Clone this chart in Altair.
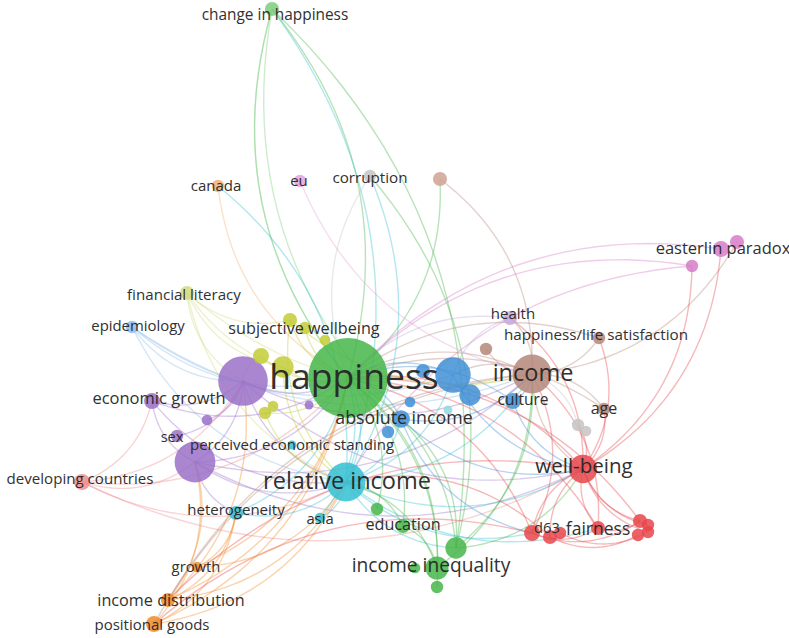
import altair as alt
import pandas as pd

W, H = 789, 638

# Cluster palette
GREEN = "#45b649"
GREEN_L = "#7ccd7c"
BLUE = "#3f8fd6"
BLUE_L = "#8fbde8"
CYAN = "#34bfd2"
CYAN_L = "#8fd8e2"
PURPLE = "#9a71c7"
PURPLE_L = "#c3a8e0"
YELLOW = "#c2cc36"
YELLOW_L = "#d3db7c"
BROWN = "#b5877a"
BROWN_L = "#cfa293"
GRAY = "#c4c4c4"
PINK = "#d67cc8"
PINK_L = "#e4a3d9"
RED = "#e8474b"
RED_L = "#ef8d8f"
ORANGE = "#f18b28"
ORANGE_L = "#f4b072"

# Keyword nodes: id, x, y (map coordinates), radius, colour
node_ids = ["hap", "chg", "edu", "gA", "iq1", "iq2", "iq3", "iq4",
            "bl1", "bl2", "cul", "bl3", "abs", "bl4", "bl5", "epi",
            "rel", "het", "asia", "pes", "cy2",
            "pu1", "eg", "pu2", "sex", "pu3", "hea", "pu4",
            "sw1", "sw2", "sw3", "yl1", "yl2", "yl3", "yl4", "fin",
            "inc", "br1", "hls", "age", "br2",
            "cor", "gr1", "gr2",
            "eu", "ep1", "ep2", "ep3",
            "wb", "d1", "d2", "d3", "fai", "rf1", "rf2", "rf3", "rf4", "dev",
            "can", "gro", "idi", "pos"]
node_x = [348, 272, 403, 377, 456, 437, 437, 415,
          453, 470, 513, 410, 401, 388, 423, 132,
          346, 236, 320, 292, 448,
          243, 152, 207, 177, 195, 510, 309,
          290, 305, 325, 261, 283, 265, 273, 187,
          532, 486, 599, 604, 440,
          370, 578, 586,
          300, 721, 737, 692,
          583, 532, 550, 560, 598, 640, 648, 648, 638, 82,
          218, 197, 168, 154]
node_y = [378, 9, 526, 509, 548, 568, 587, 568,
          375, 395, 401, 402, 419, 432, 371, 327,
          482, 513, 518, 445, 410,
          381, 401, 420, 436, 462, 318, 405,
          320, 328, 340, 356, 367, 413, 406, 293,
          374, 349, 338, 409, 179,
          176, 425, 431,
          181, 249, 242, 266,
          469, 533, 537, 533, 528, 521, 525, 532, 535, 482,
          186, 567, 600, 624]
node_r = [45, 8, 8, 7, 12, 13, 7, 6,
          20, 12, 9, 6, 10, 7, 8, 7,
          22, 8, 6, 5, 5,
          28, 9, 6, 7, 23, 8, 5,
          8, 7, 6, 9, 12, 7, 6, 8,
          22, 7, 7, 7, 8,
          7, 7, 6,
          7, 9, 8, 7,
          16, 9, 8, 7, 8, 8, 7, 7, 7, 9,
          7, 6, 8, 9]
node_color = [GREEN, GREEN_L, GREEN, GREEN, GREEN, GREEN, GREEN, GREEN,
              BLUE, BLUE, BLUE, BLUE, BLUE, BLUE, BLUE, BLUE_L,
              CYAN, CYAN, CYAN, CYAN, CYAN_L,
              PURPLE, PURPLE, PURPLE, PURPLE, PURPLE, PURPLE_L, PURPLE,
              YELLOW, YELLOW, YELLOW, YELLOW, YELLOW, YELLOW, YELLOW, YELLOW_L,
              BROWN, BROWN, BROWN, BROWN, BROWN_L,
              GRAY, GRAY, GRAY,
              PINK_L, PINK, PINK, PINK,
              RED, RED, RED, RED, RED, RED, RED, RED, RED, RED_L,
              ORANGE_L, ORANGE, ORANGE, ORANGE]

# Keyword labels: text, centre x, centre y, font size
label_text = ["change in happiness", "canada", "eu", "corruption", "easterlin paradox",
              "financial literacy", "health", "epidemiology", "subjective wellbeing",
              "happiness/life satisfaction", "happiness", "income", "economic growth",
              "absolute income", "culture", "age", "sex", "perceived economic standing",
              "well-being", "developing countries", "relative income", "heterogeneity",
              "asia", "education", "d63", "fairness", "income inequality", "growth",
              "income distribution", "positional goods"]
label_x = [275, 216, 299, 370, 723,
           184, 513, 138, 304,
           596, 354, 533, 159,
           404, 523, 604, 172, 292,
           584, 80, 347, 236,
           320, 403, 547, 598, 431, 196,
           171, 152]
label_y = [15, 186, 181, 178, 249,
           295, 314, 327, 329,
           335, 378, 374, 399,
           419, 400, 409, 438, 445,
           467, 479, 482, 510,
           520, 525, 529, 530, 566, 568,
           601, 625]
label_size = [15.4, 15, 15, 15.2, 16.5,
              15.1, 15, 14.9, 16.2,
              15.2, 35.5, 23.5, 16.5,
              17.8, 15.5, 16, 14.5, 15,
              20.5, 15.1, 23.5, 15,
              14.8, 16.2, 14.7, 17.5, 19.2, 14.8,
              16.2, 15]

# Co-occurrence links (source, target)
edges = [
    ("chg", "hap"), ("chg", "hap"), ("hap", "chg"), ("iq1", "chg"), ("rel", "chg"), ("chg", "abs"),
    ("can", "hap"), ("rel", "can"), ("cor", "hap"), ("iq1", "cor"), ("rel", "cor"),
    ("hap", "br2"), ("inc", "br2"), ("eu", "inc"),
    ("ep1", "hap"), ("ep3", "hap"), ("inc", "ep2"), ("wb", "ep1"), ("ep3", "rel"), ("wb", "ep3"),
    ("fin", "sw1"), ("fin", "hap"), ("fin", "rel"), ("fin", "pu1"), ("fin", "yl2"), ("fin", "inc"),
    ("epi", "hap"), ("epi", "inc"), ("epi", "pu1"), ("epi", "rel"), ("epi", "bl1"),
    ("pu1", "hap"), ("eg", "pu1"), ("pu3", "pu1"), ("pu1", "inc"), ("pu1", "rel"),
    ("pu1", "wb"), ("sex", "pu1"), ("pu2", "pu1"), ("yl1", "pu1"),
    ("eg", "pu3"), ("eg", "rel"), ("eg", "hap"), ("dev", "eg"),
    ("dev", "pu3"), ("pu3", "rel"), ("pu3", "wb"), ("pu3", "inc"), ("pu3", "het"),
    ("pos", "pu3"), ("idi", "pu3"), ("pu3", "hap"),
    ("dev", "pu1"), ("dev", "hap"), ("dev", "wb"), ("dev", "rel"),
    ("rel", "wb"), ("rel", "inc"), ("het", "rel"), ("asia", "rel"), ("rel", "iq1"),
    ("idi", "rel"), ("pos", "rel"), ("rel", "d1"), ("rel", "fai"), ("rel", "bl1"), ("rel", "abs"),
    ("rel", "hap"), ("het", "hap"),
    ("pos", "het"), ("idi", "het"), ("gro", "het"),
    ("idi", "hap"), ("inc", "idi"), ("wb", "idi"), ("idi", "pu1"),
    ("inc", "pos"), ("d1", "pos"), ("pos", "hap"), ("gro", "hap"), ("gro", "rel"),
    ("iq1", "inc"), ("iq1", "wb"), ("iq1", "hap"), ("iq2", "hap"), ("iq2", "rel"),
    ("iq1", "abs"), ("iq2", "edu"), ("iq2", "inc"), ("iq3", "hap"),
    ("edu", "hap"), ("edu", "rel"), ("gA", "hap"), ("asia", "hap"),
    ("inc", "wb"), ("inc", "hap"), ("inc", "bl1"), ("d1", "inc"), ("fai", "inc"),
    ("age", "inc"), ("inc", "hls"), ("inc", "hea"), ("gr1", "inc"), ("br1", "inc"),
    ("wb", "d1"), ("wb", "d2"), ("wb", "fai"), ("wb", "rf1"), ("wb", "rf2"), ("wb", "rf3"),
    ("wb", "gr1"), ("wb", "age"), ("wb", "hap"), ("wb", "hls"), ("wb", "hea"),
    ("d1", "fai"), ("d1", "rf1"), ("d2", "rf4"), ("fai", "rf1"), ("d3", "rf3"),
    ("d1", "hap"), ("fai", "hap"), ("rf1", "hap"), ("d2", "rel"),
    ("hea", "hap"), ("hea", "bl1"), ("hls", "hap"), ("age", "hap"),
    ("abs", "hap"), ("abs", "inc"), ("abs", "wb"), ("abs", "d1"),
    ("bl1", "wb"), ("bl1", "hap"), ("cul", "inc"), ("cul", "wb"), ("cul", "hap"),
    ("sw1", "hap"), ("sw1", "rel"), ("sw1", "inc"), ("yl2", "hap"), ("yl2", "rel"),
    ("yl1", "hap"), ("yl3", "hap"), ("yl3", "rel"), ("sw2", "hap"),
]

pos = {n: (x, y) for n, x, y in zip(node_ids, node_x, node_y)}
col = dict(zip(node_ids, node_color))

# Each link is drawn as a quadratic Bezier bending clockwise from source to target
rows = []
BEND = 0.26
STEPS = 24
for k, (s, t) in enumerate(edges):
    x0, y0 = pos[s]
    x1, y1 = pos[t]
    dx, dy = x1 - x0, y1 - y0
    cx = (x0 + x1) / 2 - BEND * dy
    cy = (y0 + y1) / 2 + BEND * dx
    for i in range(STEPS + 1):
        u = i / STEPS
        bx = (1 - u) ** 2 * x0 + 2 * (1 - u) * u * cx + u ** 2 * x1
        by = (1 - u) ** 2 * y0 + 2 * (1 - u) * u * cy + u ** 2 * y1
        rows.append({"edge": k, "step": i, "x": bx, "y": by, "color": col[s]})
edge_df = pd.DataFrame(rows)

node_df = pd.DataFrame({
    "id": node_ids, "x": node_x, "y": node_y,
    "area": [3.14159 * r * r for r in node_r], "color": node_color,
})
label_df = pd.DataFrame({"text": label_text, "x": label_x, "y": label_y, "size": label_size})

xs = alt.Scale(domain=[0, W], nice=False, zero=False)
ys = alt.Scale(domain=[0, H], nice=False, zero=False, reverse=True)
X = lambda: alt.X("x:Q", scale=xs, axis=None)
Y = lambda: alt.Y("y:Q", scale=ys, axis=None)

links = alt.Chart(edge_df).mark_line(strokeWidth=1.4, opacity=0.38).encode(
    x=X(), y=Y(), detail="edge:N", order="step:Q",
    color=alt.Color("color:N", scale=None),
)

nodes = alt.Chart(node_df).mark_circle(opacity=0.85).encode(
    x=X(), y=Y(),
    size=alt.Size("area:Q", scale=None),
    color=alt.Color("color:N", scale=None),
)

labels = alt.Chart(label_df).mark_text(
    font="Open Sans", color="#262626", align="center", baseline="middle", opacity=0.95
).encode(
    x=X(), y=Y(), text="text:N",
    size=alt.Size("size:Q", scale=None),
)

chart = alt.layer(links, nodes, labels).properties(
    width=W, height=H, padding=0,
    autosize=alt.AutoSizeParams(type="none"),
    background="white",
).configure_view(stroke=None)

chart.save("out.html", embed_options={"renderer": "svg", "actions": False})
